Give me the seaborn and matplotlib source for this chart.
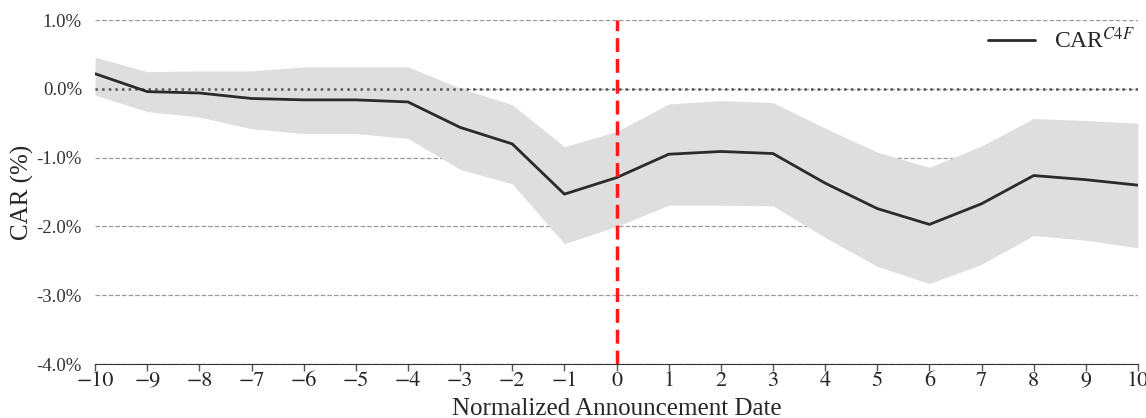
import matplotlib
matplotlib.use('Agg')
import matplotlib.pyplot as plt
import pandas as pd
import numpy as np
import seaborn as sns
from matplotlib.ticker import FuncFormatter

sns.set_style('white')
plt.rcParams['font.family'] = ['Liberation Serif', 'DejaVu Serif']
plt.rcParams['mathtext.fontset'] = 'stix'

days = list(range(-10, 11))
car = [0.22, -0.04, -0.06, -0.14, -0.16, -0.16, -0.19, -0.56, -0.80, -1.53, -1.29,
       -0.95, -0.91, -0.94, -1.37, -1.74, -1.97, -1.67, -1.26, -1.32, -1.40]
car_upper = [0.46, 0.25, 0.26, 0.26, 0.32, 0.32, 0.32, 0.01, -0.23, -0.84, -0.62,
             -0.22, -0.17, -0.20, -0.57, -0.92, -1.14, -0.83, -0.43, -0.46, -0.50]
car_lower = [-0.09, -0.33, -0.41, -0.58, -0.65, -0.65, -0.72, -1.17, -1.38, -2.25, -2.00,
             -1.69, -1.69, -1.70, -2.16, -2.58, -2.83, -2.55, -2.13, -2.20, -2.31]
y_ticks = [1.0, 0.0, -1.0, -2.0, -3.0, -4.0]

df = pd.DataFrame({'day': days, 'car': car, 'upper': car_upper, 'lower': car_lower})

fig, ax = plt.subplots(figsize=(11.46, 4.18), dpi=100)
fig.subplots_adjust(left=0.083, right=0.993, top=0.952, bottom=0.129)

ax.fill_between(df['day'], df['lower'], df['upper'], color='#dedede', linewidth=0)
sns.lineplot(x='day', y='car', data=df, ax=ax, color='#2a2a2a', linewidth=2,
             label=r'CAR$^{C4F}$')

ax.axhline(0, color='#555555', linestyle=':', linewidth=1.8, zorder=1)
ax.axvline(0, color='#ff1a1a', linestyle='--', linewidth=2.5, dashes=(4, 2), zorder=3)

ax.set_xlim(-10, 10)
ax.set_ylim(-4, 1)
ax.set_yticks(y_ticks)
ax.set_xticks(days)
ax.yaxis.set_major_formatter(FuncFormatter(lambda v, p: f'{v:.1f}%'))
ax.yaxis.grid(True, linestyle='--', color='#9a9a9a', linewidth=0.9)
ax.set_axisbelow(True)

for side in ['top', 'right', 'left']:
    ax.spines[side].set_visible(False)
ax.spines['bottom'].set_color('#333333')
ax.tick_params(axis='x', which='major', bottom=True, length=5, width=1, color='#555555',
               labelsize=16, pad=0)
ax.tick_params(axis='y', left=False, labelsize=13.5, pad=6, labelcolor='#333333')
for lbl in ax.get_xticklabels():
    lbl.set_fontfamily('STIXGeneral')

ax.set_xlabel('Normalized Announcement Date', fontsize=18, labelpad=5)
ax.set_ylabel('CAR (%)', fontsize=18, labelpad=2)

leg = ax.legend(loc='upper right', frameon=False, fontsize=17, handlelength=2.0,
                borderaxespad=0.0, bbox_to_anchor=(1.006, 1.005))

plt.savefig('out.png', dpi=100)
